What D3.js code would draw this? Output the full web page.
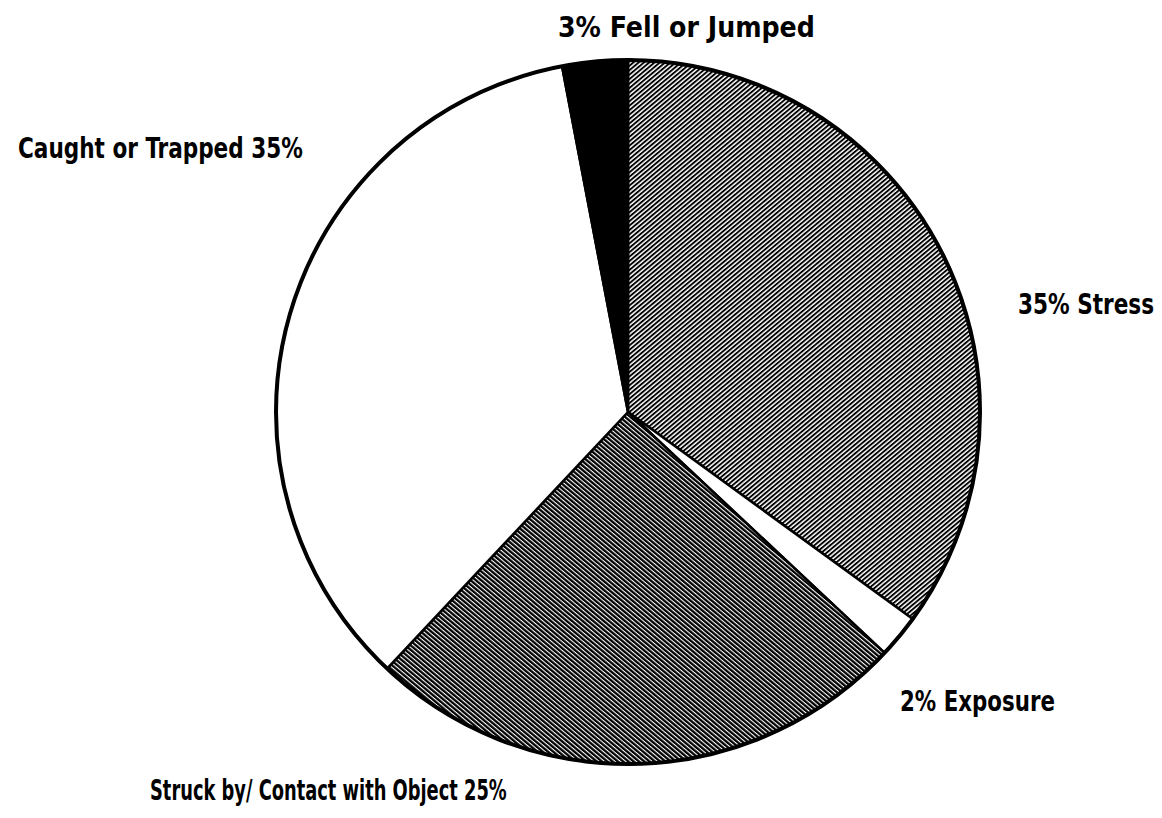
<!DOCTYPE html>
<html>
<head>
<meta charset="utf-8">
<script src="https://cdn.jsdelivr.net/npm/d3@7"></script>
<style>
  html, body { margin: 0; padding: 0; background: #fff; }
  text { font-family: "DejaVu Sans Condensed", "Liberation Sans Narrow", "Arial Narrow", sans-serif; font-weight: bold; fill: #000; }
</style>
</head>
<body>
<svg id="chart" width="1162" height="818"></svg>
<script>
const categories = ["Stress", "Exposure", "Struck by/ Contact with Object", "Caught or Trapped", "Fell or Jumped"];
const values = [35, 2, 25, 35, 3];
const labels = ["35% Stress", "2% Exposure", "Struck by/ Contact with Object 25%", "Caught or Trapped 35%", "3% Fell or Jumped"];
const fills = ["url(#hatchUp)", "#fff", "url(#hatchDown)", "#fff", "#000"];

const svg = d3.select("#chart");
const cx = 628, cy = 412, R = 352;

const defs = svg.append("defs");
function hatch(id, angle, period, lineW) {
  const p = defs.append("pattern")
    .attr("id", id).attr("patternUnits", "userSpaceOnUse")
    .attr("width", period).attr("height", period)
    .attr("patternTransform", `rotate(${angle})`);
  p.append("rect").attr("width", period).attr("height", period).attr("fill", "#fff");
  p.append("rect").attr("width", lineW).attr("height", period).attr("fill", "#000");
}
hatch("hatchUp", 50, 3.4, 1.9);
hatch("hatchDown", -50, 3.4, 2.3);

const pie = d3.pie().sort(null).value(d => d)(values);
const arc = d3.arc().innerRadius(0).outerRadius(R);

const g = svg.append("g").attr("transform", `translate(${cx},${cy})`);
g.selectAll("path.slice").data(pie).enter().append("path")
  .attr("class", "slice")
  .attr("d", arc)
  .attr("fill", (d, i) => fills[i])
  .attr("stroke", "#000")
  .attr("stroke-width", 2.5)
  .attr("stroke-linejoin", "round");

g.append("circle").attr("r", R).attr("fill", "none").attr("stroke", "#000").attr("stroke-width", 4);

// label positions (left x, baseline y, fitted width)
const labelPos = [
  { x: 1018, y: 314, w: 136 },
  { x: 900, y: 711, w: 155 },
  { x: 150, y: 800, w: 357 },
  { x: 18, y: 158, w: 285 },
  { x: 558, y: 37, w: 257 }
];
svg.selectAll("text.lbl").data(labels).enter().append("text")
  .attr("class", "lbl")
  .attr("x", 0)
  .attr("y", 0)
  .attr("font-size", 29)
  .text(d => d)
  .each(function(d, i) {
    const nat = this.getComputedTextLength();
    const s = labelPos[i].w / nat;
    d3.select(this).attr("transform", `translate(${labelPos[i].x},${labelPos[i].y}) scale(${s},1)`);
  });
</script>
</body>
</html>
